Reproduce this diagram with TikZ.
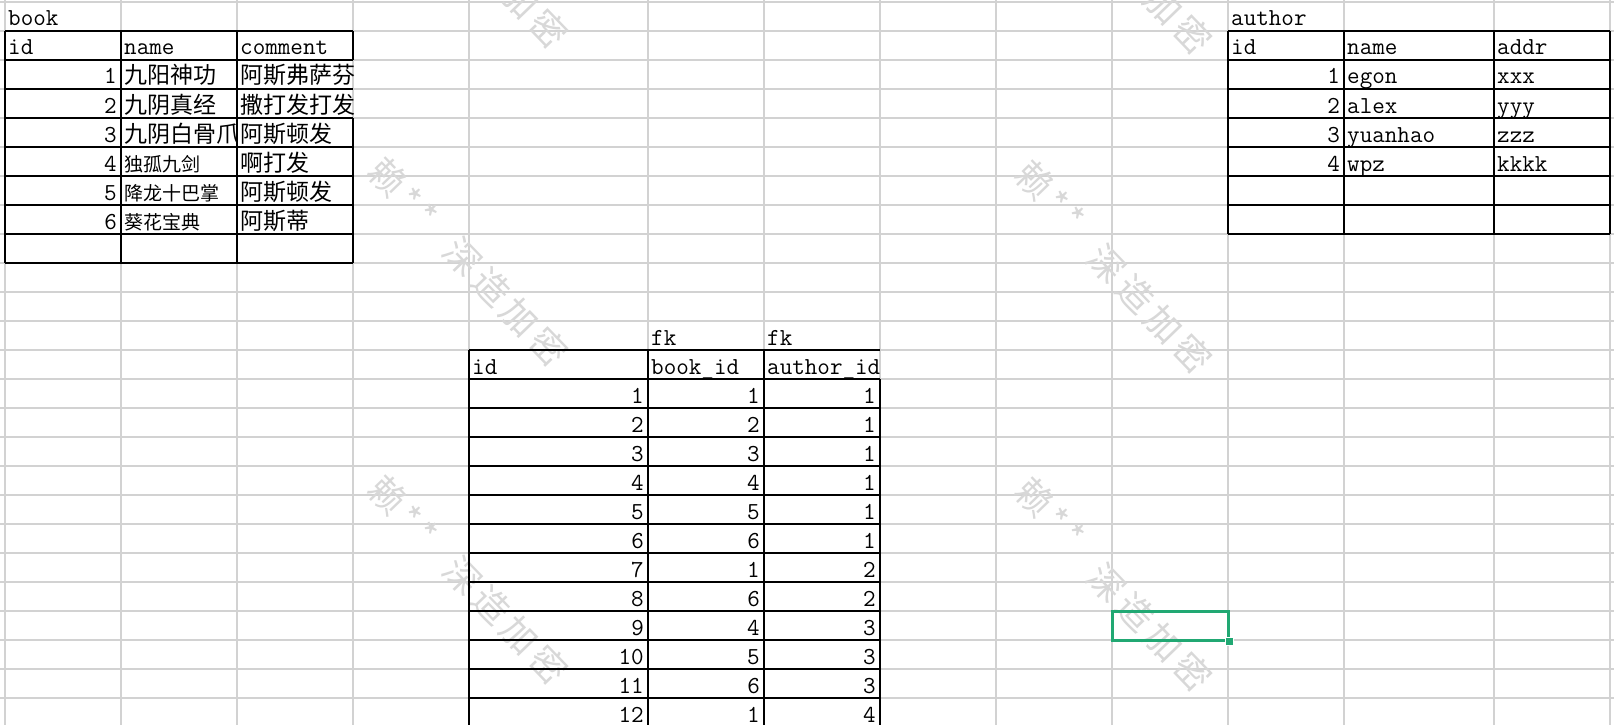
\documentclass[tikz,border=0pt]{standalone}
\usepackage{fontspec}
\newfontfamily\cjk{Noto Sans CJK SC}
\newfontfamily\wmf[LetterSpace=15]{Noto Sans CJK SC}
\definecolor{gridgray}{RGB}{210,210,210}
\definecolor{wmgray}{RGB}{216,216,216}
\definecolor{selgreen}{RGB}{33,168,115}
\tikzset{
  gridln/.style={draw=gridgray, line width=1.5},
  tbl/.style={draw=black, line width=2},
  lc/.style={anchor=base west, inner sep=0pt, font=\ttfamily\fontsize{24.4}{28}\selectfont},
  rc/.style={anchor=base east, inner sep=0pt, font=\ttfamily\fontsize{24.4}{28}\selectfont},
  zc/.style={anchor=base west, inner sep=0pt, font=\cjk\fontsize{23}{26}\selectfont},
  zs/.style={anchor=base west, inner sep=0pt, font=\cjk\fontsize{19}{22}\selectfont},
  wmk/.style={text=wmgray, rotate=-46, inner sep=0pt, font=\wmf\fontsize{36}{40}\selectfont},
  selbox/.style={draw=selgreen, line width=3, inner sep=0pt, minimum width=116, minimum height=29},
}
% left text cell: [style]{name}{left line x}{row}{text}
\newcommand\Lc[5][lc]{\node[#1] (#2) at ({#3+3},{26+29*#4}) {#5};}
% right aligned number: {name}{right line x}{row}{text}
\newcommand\Rc[4]{\node[rc] (#1) at ({#2-4},{26+29*#3}) {#4};}
\begin{document}
\begin{tikzpicture}[x=1pt,y=-1pt]
\useasboundingbox (0,0) rectangle (1614,725);
\fill[white] (0,0) rectangle (1614,725);
% grid
\foreach \gx in {5,121,237,353,469,648,764,880,996,1112,1228,1344,1494,1610}
  \draw[gridln] (\gx,0) -- (\gx,725);
\foreach \gk in {0,...,24}
  \draw[gridln] (0,{2+29*\gk}) -- (1614,{2+29*\gk});
% watermarks
\node[wmk] (wa1) at (403,193) {赖**};
\node[wmk] (wa2) at (403,511) {赖**};
\node[wmk] (wa3) at (1050,196) {赖**};
\node[wmk] (wa4) at (1050,513) {赖**};
\node[wmk] (wb1) at (506,-16) {深造加密};
\node[wmk] (wb2) at (506,302) {深造加密};
\node[wmk] (wb3) at (506,620) {深造加密};
\node[wmk] (wb4) at (1150,-10) {深造加密};
\node[wmk] (wb5) at (1150,309) {深造加密};
\node[wmk] (wb6) at (1150,627) {深造加密};
% ---------- book table ----------
\foreach \gk in {1,...,9} \draw[tbl] (5,{2+29*\gk}) -- (353,{2+29*\gk});
\draw[tbl] (5,31) -- (5,263);
\draw[tbl] (121,31) -- (121,263);
\draw[tbl] (237,31) -- (237,263);
\draw[tbl] (353,31) -- (353,60);
\draw[tbl] (353,118) -- (353,263);
\Lc{bt}{5}{0}{book}
\Lc{bh1}{5}{1}{id}
\Lc{bh2}{121}{1}{name}
\Lc{bh3}{237}{1}{comment}
\Rc{bi1}{121}{2}{1}
\Rc{bi2}{121}{3}{2}
\Rc{bi3}{121}{4}{3}
\Rc{bi4}{121}{5}{4}
\Rc{bi5}{121}{6}{5}
\Rc{bi6}{121}{7}{6}
\Lc[zc]{bn1}{121}{2}{九阳神功}
\Lc[zc]{bn2}{121}{3}{九阴真经}
\begin{scope}
\clip (121,118) rectangle (237,147);
\Lc[zc]{bn3}{121}{4}{九阴白骨爪}
\end{scope}
\Lc[zs]{bn4}{121}{5}{独孤九剑}
\Lc[zs]{bn5}{121}{6}{降龙十巴掌}
\Lc[zs]{bn6}{121}{7}{葵花宝典}
\Lc[zc]{bc1}{237}{2}{阿斯弗萨芬}
\Lc[zc]{bc2}{237}{3}{撒打发打发}
\Lc[zc]{bc3}{237}{4}{阿斯顿发}
\Lc[zc]{bc4}{237}{5}{啊打发}
\Lc[zc]{bc5}{237}{6}{阿斯顿发}
\Lc[zc]{bc6}{237}{7}{阿斯蒂}
% ---------- author table ----------
\foreach \gk in {1,...,8} \draw[tbl] (1228,{2+29*\gk}) -- (1610,{2+29*\gk});
\foreach \gx in {1228,1344,1494,1610} \draw[tbl] (\gx,31) -- (\gx,234);
\Lc{at}{1228}{0}{author}
\Lc{ah1}{1228}{1}{id}
\Lc{ah2}{1344}{1}{name}
\Lc{ah3}{1494}{1}{addr}
\Rc{ai1}{1344}{2}{1}
\Rc{ai2}{1344}{3}{2}
\Rc{ai3}{1344}{4}{3}
\Rc{ai4}{1344}{5}{4}
\Lc{an1}{1344}{2}{egon}
\Lc{an2}{1344}{3}{alex}
\Lc{an3}{1344}{4}{yuanhao}
\Lc{an4}{1344}{5}{wpz}
\Lc{ad1}{1494}{2}{xxx}
\Lc{ad2}{1494}{3}{yyy}
\Lc{ad3}{1494}{4}{zzz}
\Lc{ad4}{1494}{5}{kkkk}
% ---------- link table ----------
\foreach \gk in {12,...,24} \draw[tbl] (469,{2+29*\gk}) -- (880,{2+29*\gk});
\draw[tbl] (469,350) -- (469,725);
\draw[tbl] (648,350) -- (648,725);
\draw[tbl] (764,350) -- (764,725);
\draw[tbl] (880,379) -- (880,725);
\Lc{fk1}{648}{11}{fk}
\Lc{fk2}{764}{11}{fk}
\Lc{lh1}{469}{12}{id}
\Lc{lh2}{648}{12}{book\_id}
\Lc{lh3}{764}{12}{author\_id}
\foreach \li/\lb/\la [count=\r from 13] in {1/1/1,2/2/1,3/3/1,4/4/1,5/5/1,6/6/1,7/1/2,8/6/2,9/4/3,10/5/3,11/6/3,12/1/4}{
  \Rc{li\li}{648}{\r}{\li}
  \Rc{lb\li}{764}{\r}{\lb}
  \Rc{la\li}{880}{\r}{\la}
}
% selected cell
\node[selbox] (selcell) at (1170,625.5) {};
\filldraw[fill=selgreen, draw=white, line width=1] (selcell.south east) ++(-4,-4) rectangle ++(8,8);
\end{tikzpicture}
\end{document}
